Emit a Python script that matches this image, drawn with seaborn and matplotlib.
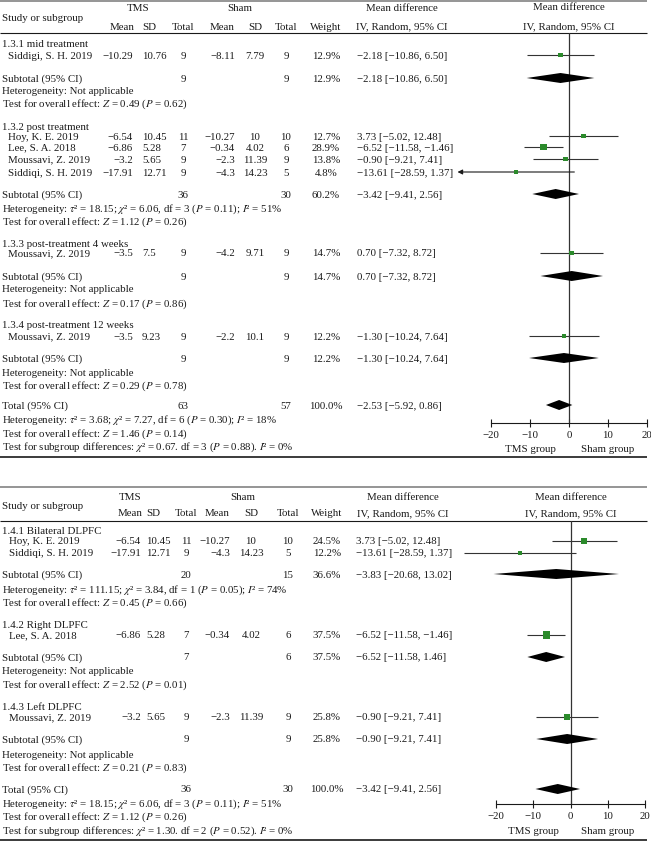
import matplotlib
matplotlib.use("Agg")
import matplotlib.pyplot as plt
import seaborn as sns

sns.set_theme(style="white")
plt.rcParams['font.family'] = ['Liberation Serif', 'DejaVu Serif']
plt.rcParams['mathtext.fontset'] = 'stix'

FS = 7.8
INK = '#1a1a1a'
GREEN = '#2b8a2b'

# ---------------- DATA : panel 1 (by time of assessment)
p1_groups = ["1.3.1 mid treatment", "1.3.2 post treatment",
             "1.3.3 post-treatment 4 weeks", "1.3.4 post-treatment 12 weeks"]
p1_group_of = [0, 1, 1, 1, 1, 2, 3]
p1_study = ["Siddigi, S. H. 2019", "Hoy, K. E. 2019", "Lee, S. A. 2018",
            "Moussavi, Z. 2019", "Siddiqi, S. H. 2019", "Moussavi, Z. 2019",
            "Moussavi, Z. 2019"]
p1_tms_mean = [-10.29, -6.54, -6.86, -3.2, -17.91, -3.5, -3.5]
p1_tms_sd = [10.76, 10.45, 5.28, 5.65, 12.71, 7.5, 9.23]
p1_tms_n = [9, 11, 7, 9, 9, 9, 9]
p1_sham_mean = [-8.11, -10.27, -0.34, -2.3, -4.3, -4.2, -2.2]
p1_sham_sd = [7.79, 10, 4.02, 11.39, 14.23, 9.71, 10.1]
p1_sham_n = [9, 10, 6, 9, 5, 9, 9]
p1_weight = [12.9, 12.7, 28.9, 13.8, 4.8, 14.7, 12.2]
p1_md = [-2.18, 3.73, -6.52, -0.90, -13.61, 0.70, -1.30]
p1_lo = [-10.86, -5.02, -11.58, -9.21, -28.59, -7.32, -10.24]
p1_hi = [6.50, 12.48, -1.46, 7.41, 1.37, 8.72, 7.64]

p1_sub_tms_n = [9, 36, 9, 9]
p1_sub_sham_n = [9, 30, 9, 9]
p1_sub_weight = [12.9, 60.2, 14.7, 12.2]
p1_sub_md = [-2.18, -3.42, 0.70, -1.30]
p1_sub_lo = [-10.86, -9.41, -7.32, -10.24]
p1_sub_hi = [6.50, 2.56, 8.72, 7.64]
p1_sub_het = ["Heterogeneity: Not applicable",
              r"Heterogeneity: $\tau$² = 18.15; $\chi$² = 6.06, df = 3 ($P$ = 0.11); $I$² = 51%",
              "Heterogeneity: Not applicable",
              "Heterogeneity: Not applicable"]
p1_sub_z = [0.49, 1.12, 0.17, 0.29]
p1_sub_p = [0.62, 0.26, 0.86, 0.78]

p1_tot = dict(tms_n=63, sham_n=57, weight=100.0, md=-2.53, lo=-5.92, hi=0.86,
              het=r"Heterogeneity: $\tau$² = 3.68; $\chi$² = 7.27, df = 6 ($P$ = 0.30); $I$² = 18%",
              z=1.46, p=0.14,
              sub=r"Test for subgroup differences: $\chi$² = 0.67. df = 3 ($P$ = 0.88). $I$² = 0%")

# ---------------- DATA : panel 2 (by stimulation site)
p2_groups = ["1.4.1 Bilateral DLPFC", "1.4.2 Right DLPFC", "1.4.3 Left DLPFC"]
p2_group_of = [0, 0, 1, 2]
p2_study = ["Hoy, K. E. 2019", "Siddiqi, S. H. 2019", "Lee, S. A. 2018",
            "Moussavi, Z. 2019"]
p2_tms_mean = [-6.54, -17.91, -6.86, -3.2]
p2_tms_sd = [10.45, 12.71, 5.28, 5.65]
p2_tms_n = [11, 9, 7, 9]
p2_sham_mean = [-10.27, -4.3, -0.34, -2.3]
p2_sham_sd = [10, 14.23, 4.02, 11.39]
p2_sham_n = [10, 5, 6, 9]
p2_weight = [24.5, 12.2, 37.5, 25.8]
p2_md = [3.73, -13.61, -6.52, -0.90]
p2_lo = [-5.02, -28.59, -11.58, -9.21]
p2_hi = [12.48, 1.37, -1.46, 7.41]

p2_sub_tms_n = [20, 7, 9]
p2_sub_sham_n = [15, 6, 9]
p2_sub_weight = [36.6, 37.5, 25.8]
p2_sub_md = [-3.83, -6.52, -0.90]
p2_sub_lo = [-20.68, -11.58, -9.21]
p2_sub_hi = [13.02, -1.46, 7.41]
p2_sub_ci_text = [None, "\u22126.52 [\u221211.58, 1.46]", None]  # as printed
p2_sub_het = [r"Heterogeneity: $\tau$² = 111.15; $\chi$² = 3.84, df = 1 ($P$ = 0.05); $I$² = 74%",
              "Heterogeneity: Not applicable",
              "Heterogeneity: Not applicable"]
p2_sub_z = [0.45, 2.52, 0.21]
p2_sub_p = [0.66, 0.01, 0.83]

p2_tot = dict(tms_n=36, sham_n=30, weight=100.0, md=-3.42, lo=-9.41, hi=2.56,
              het=r"Heterogeneity: $\tau$² = 18.15; $\chi$² = 6.06, df = 3 ($P$ = 0.11); $I$² = 51%",
              z=1.12, p=0.26,
              sub=r"Test for subgroup differences: $\chi$² = 1.30. df = 2 ($P$ = 0.52). $I$² = 0%")

ticks = [-20, -10, 0, 10, 20]


def num(v):
    return f"{v:g}".replace('-', '\u2212')


def ci_txt(md, lo, hi):
    return f"{md:.2f} [{lo:.2f}, {hi:.2f}]".replace('-', '\u2212')


def test_txt(z, p):
    return f"Test for overall effect: $Z$ = {z:.2f} ($P$ = {p:.2f})"


# ---------------- FIGURE
W, H = 651, 841
fig = plt.figure(figsize=(W / 100, H / 100), dpi=100)
tx = fig.add_axes([0, 0, 1, 1])
tx.set_xlim(0, W)
tx.set_ylim(H, 0)
tx.axis('off')

BASE = 3.5  # px from row centre to text baseline


def t(x, y, s, ha='left', **kw):
    tx.text(x, y + BASE, s, ha=ha, va='baseline', fontsize=FS, color=INK, **kw)


def draw_panel(d, lay):
    c = lay['cols']
    # rules
    tx.hlines(lay['top'], 0, 647, color='#8c8c8c', lw=1.3)
    tx.hlines(lay['head'], 0, 647, color=INK, lw=0.8)
    tx.hlines(lay['bottom'], 0, 647, color=INK, lw=1.2)

    # header
    y1, y2 = lay['hdr']
    t(2, (y1 + y2) / 2 + 1, "Study or subgroup")
    t(c['tms'], y1, "TMS", 'center')
    t(c['sham'], y1, "Sham", 'center')
    t(c['ci_c'], y1, "Mean difference", 'center')
    t(c['mean1'] - 11, y2, "Mean", 'center')
    t(c['sd1'] + 7, y2, "SD", 'center')
    t(c['n1'], y2, "Total", 'center')
    t(c['mean2'] - 13, y2, "Mean", 'center')
    t(c['sd2'], y2, "SD", 'center')
    t(c['n2'], y2, "Total", 'center')
    t(c['w'], y2, "Weight", 'center')
    t(c['ci_c'], y2, "IV, Random, 95% CI", 'center')

    # forest axes, x in mean-difference units, y in page rows
    fx0, fx1 = lay['fx']
    ya, yb = lay['head'], lay['axis']
    ax = fig.add_axes([fx0 / W, 1 - yb / H, (fx1 - fx0) / W, (yb - ya) / H])
    ax.set_xlim(-20, 20)
    ax.set_ylim(yb, ya)
    ax.patch.set_alpha(0)
    for s in ['left', 'right', 'top']:
        ax.spines[s].set_visible(False)
    ax.spines['bottom'].set_color(INK)
    ax.spines['bottom'].set_linewidth(0.8)
    ax.set_yticks([])
    ax.set_xticks(ticks)
    ax.set_xticklabels([num(v) for v in ticks])
    ax.tick_params(axis='x', direction='inout', length=6, width=0.8,
                   colors=INK, labelsize=FS, pad=3, bottom=True)
    ax.axvline(0, color='#333333', lw=0.9, zorder=1)
    for yy, s in [(lay['hdr'][0], "Mean difference"),
                  (lay['hdr'][1], "IV, Random, 95% CI")]:
        ax.text(0, yy + BASE, s, ha='center', va='baseline',
                fontsize=FS, color=INK, clip_on=False)
    ax.text(-10, lay['grp'] + BASE, "TMS group", ha='center', va='baseline',
            fontsize=FS, color=INK, clip_on=False)
    ax.text(10, lay['grp'] + BASE, "Sham group", ha='center', va='baseline',
            fontsize=FS, color=INK, clip_on=False)

    def diamond(md, lo, hi, y):
        ax.fill([lo, md, hi, md], [y, y - 5, y, y + 5], color='black',
                lw=0, zorder=3, clip_on=False)

    # studies
    sy = lay['study_y']
    for i in range(len(d['study'])):
        y = sy[i]
        t(c['name'], y, d['study'][i])
        t(c['mean1'], y, num(d['tms_mean'][i]), 'right')
        t(c['sd1'], y, num(d['tms_sd'][i]))
        t(c['n1'], y, str(d['tms_n'][i]), 'center')
        t(c['mean2'], y, num(d['sham_mean'][i]), 'right')
        t(c['sd2'], y, num(d['sham_sd'][i]), 'center')
        t(c['n2'], y, str(d['sham_n'][i]), 'center')
        t(c['w'], y, f"{d['weight'][i]:.1f}%", 'center')
        t(c['ci'], y, ci_txt(d['md'][i], d['lo'][i], d['hi'][i]))
        lo, hi = d['lo'][i], d['hi'][i]
        if lay['arrow'] and lo < -20:
            ax.annotate('', xy=(lo, y), xytext=(hi, y), annotation_clip=False,
                        arrowprops=dict(arrowstyle='-|>', color=INK, lw=0.8,
                                        mutation_scale=7, shrinkA=0, shrinkB=0))
        else:
            ax.hlines(y, lo, hi, color='#333333', lw=0.8, zorder=2, clip_on=False)
    sns.scatterplot(x=d['md'], y=sy, marker='s', color=GREEN, ax=ax,
                    s=[0.7 * w + 2 for w in d['weight']], linewidth=0,
                    zorder=4, legend=False, clip_on=False)

    # subgroups
    for g, name in enumerate(d['groups']):
        gy, suby, hety, testy = lay['grp_y'][g]
        t(2, gy, name)
        t(2, suby, "Subtotal (95% CI)")
        t(c['n1'], suby, str(d['sub_tms_n'][g]), 'center')
        t(c['n2'], suby, str(d['sub_sham_n'][g]), 'center')
        t(c['w'], suby, f"{d['sub_weight'][g]:.1f}%", 'center')
        lab = d['sub_ci_text'][g] or ci_txt(d['sub_md'][g], d['sub_lo'][g], d['sub_hi'][g])
        t(c['ci'], suby, lab)
        t(2, hety, d['sub_het'][g])
        t(2, testy, test_txt(d['sub_z'][g], d['sub_p'][g]))
        diamond(d['sub_md'][g], d['sub_lo'][g], d['sub_hi'][g], suby)

    # total
    tot = d['tot']
    ty, hy, zy, sgy = lay['tot_y']
    t(2, ty, "Total (95% CI)")
    t(c['n1'], ty, str(tot['tms_n']), 'center')
    t(c['n2'], ty, str(tot['sham_n']), 'center')
    t(c['w'], ty, f"{tot['weight']:.1f}%", 'center')
    t(c['ci'], ty, ci_txt(tot['md'], tot['lo'], tot['hi']))
    t(2, hy, tot['het'])
    t(2, zy, test_txt(tot['z'], tot['p']))
    t(2, sgy, tot['sub'])
    diamond(tot['md'], tot['lo'], tot['hi'], ty)


panel1 = dict(groups=p1_groups, study=p1_study, tms_mean=p1_tms_mean,
              tms_sd=p1_tms_sd, tms_n=p1_tms_n, sham_mean=p1_sham_mean,
              sham_sd=p1_sham_sd, sham_n=p1_sham_n, weight=p1_weight,
              md=p1_md, lo=p1_lo, hi=p1_hi, sub_tms_n=p1_sub_tms_n,
              sub_sham_n=p1_sub_sham_n, sub_weight=p1_sub_weight,
              sub_md=p1_sub_md, sub_lo=p1_sub_lo, sub_hi=p1_sub_hi,
              sub_ci_text=[None] * 4, sub_het=p1_sub_het,
              sub_z=p1_sub_z, sub_p=p1_sub_p, tot=p1_tot)
panel2 = dict(groups=p2_groups, study=p2_study, tms_mean=p2_tms_mean,
              tms_sd=p2_tms_sd, tms_n=p2_tms_n, sham_mean=p2_sham_mean,
              sham_sd=p2_sham_sd, sham_n=p2_sham_n, weight=p2_weight,
              md=p2_md, lo=p2_lo, hi=p2_hi, sub_tms_n=p2_sub_tms_n,
              sub_sham_n=p2_sub_sham_n, sub_weight=p2_sub_weight,
              sub_md=p2_sub_md, sub_lo=p2_sub_lo, sub_hi=p2_sub_hi,
              sub_ci_text=p2_sub_ci_text, sub_het=p2_sub_het,
              sub_z=p2_sub_z, sub_p=p2_sub_p, tot=p2_tot)

lay1 = dict(top=0.8, head=33, bottom=457, axis=423, grp=448, hdr=(7, 26),
            fx=(491, 647), arrow=True,
            cols=dict(name=8, mean1=133, sd1=142, n1=183, mean2=235, sd2=255,
                      n2=286, w=326, ci=357, ci_c=402, tms=138, sham=240),
            study_y=[55, 136, 147, 159, 172, 253, 336],
            grp_y=[(43, 78, 90, 103), (126, 194, 208, 221),
                   (243, 276, 289, 303), (325, 358, 372, 385)],
            tot_y=(405, 419, 433, 446))
lay2 = dict(top=487, head=521, bottom=840, axis=804, grp=830, hdr=(496, 513),
            fx=(496, 645), arrow=False,
            cols=dict(name=9, mean1=141, sd1=146, n1=186, mean2=230, sd2=251,
                      n2=288, w=327, ci=356, ci_c=403, tms=130, sham=243),
            study_y=[541, 553, 635, 717],
            grp_y=[(531, 574, 589, 602), (625, 657, 671, 684),
                   (706, 739, 754, 767)],
            tot_y=(789, 803, 816, 830))

draw_panel(panel1, lay1)
draw_panel(panel2, lay2)

fig.savefig("out.png", dpi=100)
